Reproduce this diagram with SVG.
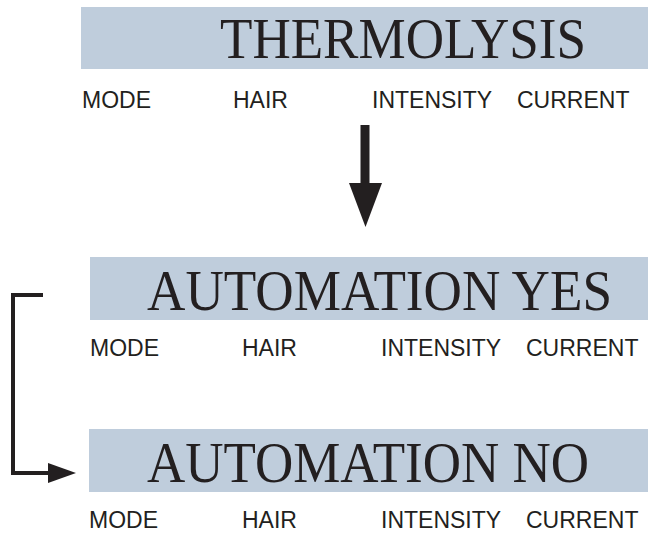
<svg xmlns="http://www.w3.org/2000/svg" width="648" height="533" viewBox="0 0 648 533">
<style>
.band{fill:#bfcddc}
.title{font-family:"Liberation Serif","Times New Roman",serif;font-size:56px;fill:#231f20}
.sub{font-family:"Liberation Sans",Arial,sans-serif;font-size:23px;fill:#231f20}
.conn{fill:none;stroke:#231f20;stroke-width:4}
</style>
<rect width="648" height="533" fill="#ffffff"/>
<g id="thermolysis">
<rect class="band" x="81" y="7" width="567" height="62"/>
<text class="title" x="220" y="58" textLength="366" lengthAdjust="spacingAndGlyphs">THERMOLYSIS</text>
<text class="sub" x="82" y="108">MODE</text>
<text class="sub" x="233" y="108">HAIR</text>
<text class="sub" x="372" y="108">INTENSITY</text>
<text class="sub" x="517" y="108">CURRENT</text>
</g>
<g id="automation-yes">
<rect class="band" x="90" y="257" width="558" height="63"/>
<text class="title" x="147" y="310" textLength="465" lengthAdjust="spacingAndGlyphs">AUTOMATION YES</text>
<text class="sub" x="90" y="356">MODE</text>
<text class="sub" x="242" y="356">HAIR</text>
<text class="sub" x="381" y="356">INTENSITY</text>
<text class="sub" x="526" y="356">CURRENT</text>
</g>
<g id="automation-no">
<rect class="band" x="89" y="429" width="559" height="63"/>
<text class="title" x="147" y="482" textLength="442" lengthAdjust="spacingAndGlyphs">AUTOMATION NO</text>
<text class="sub" x="89" y="528">MODE</text>
<text class="sub" x="242" y="528">HAIR</text>
<text class="sub" x="381" y="528">INTENSITY</text>
<text class="sub" x="526" y="528">CURRENT</text>
</g>
<g id="connectors">
<rect x="360.5" y="125" width="9" height="59" fill="#231f20"/>
<polygon points="349,183 382,183 365.5,227" fill="#231f20"/>
<polyline class="conn" points="43,295 13,295 13,473 52,473"/>
<polygon points="48,463 76,473 48,483" fill="#231f20"/>
</g>
</svg>
